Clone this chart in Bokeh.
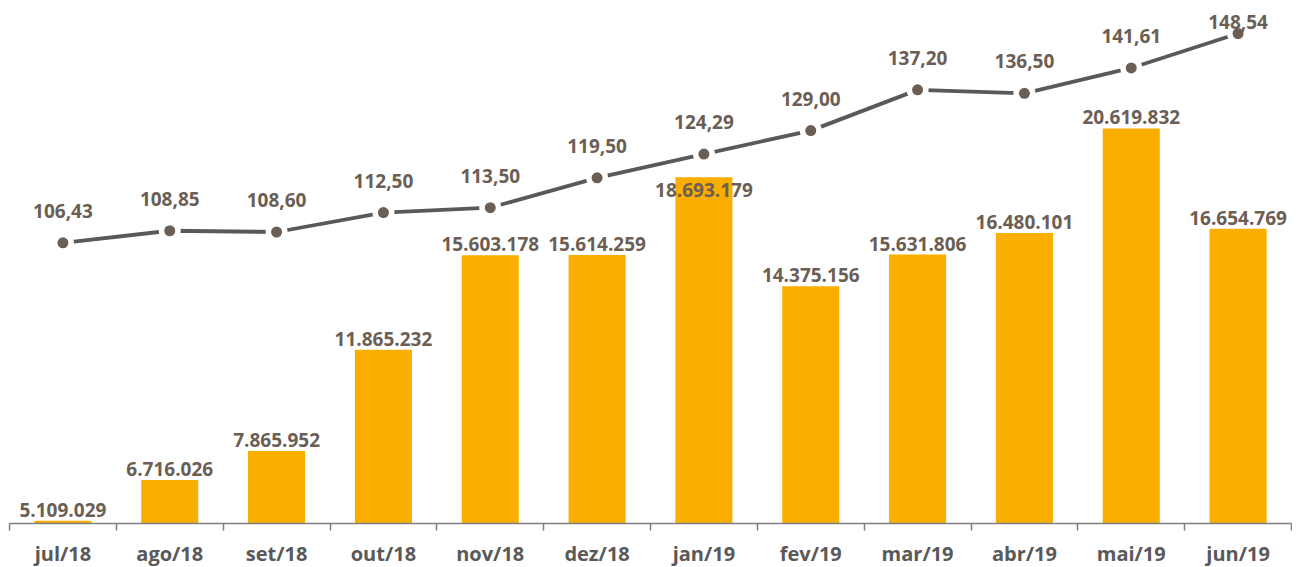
from bokeh.plotting import figure
from bokeh.models import Range1d, LinearAxis, FixedTicker, ColumnDataSource
from bokeh.core.properties import value
from bokeh.embed import file_html
from bokeh.resources import INLINE

months = ["jul/18", "ago/18", "set/18", "out/18", "nov/18", "dez/18",
          "jan/19", "fev/19", "mar/19", "abr/19", "mai/19", "jun/19"]
volume = [5109029, 6716026, 7865952, 11865232, 15603178, 15614259,
          18693179, 14375156, 15631806, 16480101, 20619832, 16654769]
price = [106.43, 108.85, 108.60, 112.50, 113.50, 119.50,
         124.29, 129.00, 137.20, 136.50, 141.61, 148.54]

def fmt_int(v):
    return f"{v:,}".replace(",", ".")

def fmt_dec(v):
    return f"{v:.2f}".replace(".", ",")

FRAME_H = 515
V_LO, V_HI = 5.0e6, 25.36e6
P_LO, P_HI = 49.95, 153.57
ppu = FRAME_H / (P_HI - P_LO)
vpu = FRAME_H / (V_HI - V_LO)

# screen distances from frame top (layout helpers, derived from the ranges)
marker_y = [(P_HI - v) * ppu for v in price]
bar_top_y = [(V_HI - v) * vpu for v in volume]

# keep the price labels inside the plot area near the top
price_off = [-min(32, m - 13) for m in marker_y]
# a volume label that would collide with the line goes inside the bar top
vol_off = [13 if (b - m) < 35 else -11 for b, m in zip(bar_top_y, marker_y)]

xs = [i + 0.5 for i in range(len(months))]
src = ColumnDataSource(dict(
    x=xs, vol=volume, price=price, poff=price_off, voff=vol_off,
    vol_lbl=[fmt_int(v) for v in volume],
    price_lbl=[fmt_dec(v) for v in price],
))

FONT = "Open Sans"
LBL = "#6b5e54"
BAR = "#F9AE00"

p = figure(frame_width=1282, frame_height=FRAME_H,
           x_range=Range1d(0, len(months)),
           y_range=Range1d(V_LO, V_HI),
           output_backend="svg", toolbar_location=None,
           min_border_left=9, min_border_right=1, min_border_top=8,
           min_border_bottom=0, outline_line_color=None)
p.extra_y_ranges = {"price": Range1d(P_LO, P_HI)}
p.grid.visible = False
p.yaxis.visible = False
p.xaxis.visible = False

xaxis = LinearAxis(
    ticker=FixedTicker(ticks=xs, minor_ticks=list(range(len(months) + 1))),
    major_label_overrides={x: m for x, m in zip(xs, months)},
    axis_line_color="#7f7f7f", axis_line_width=1.5,
    major_tick_line_color=None, major_tick_out=0, major_tick_in=0,
    minor_tick_line_color="#7f7f7f", minor_tick_line_width=1.5,
    minor_tick_out=7, minor_tick_in=0,
    major_label_text_font=FONT, major_label_text_font_style="bold",
    major_label_text_font_size="20px", major_label_text_color="#595959",
    major_label_standoff=9,
)
p.add_layout(xaxis, "below")

p.vbar(x="x", top="vol", bottom=V_LO, width=0.534, source=src,
       fill_color=BAR, line_color=None)
p.text(x="x", y="vol", text="vol_lbl", source=src, y_offset="voff",
       text_align="center", text_baseline="alphabetic",
       text_font=value(FONT), text_font_style="bold",
       text_font_size="19px", text_color=LBL)

p.line(x="x", y="price", source=src, y_range_name="price",
       line_color="#595959", line_width=3.8)
p.scatter(x="x", y="price", source=src, y_range_name="price",
          size=22, fill_color="white", line_color=None)
p.scatter(x="x", y="price", source=src, y_range_name="price",
          size=11, fill_color=LBL, line_color=None)
p.text(x="x", y="price", text="price_lbl", source=src, y_range_name="price",
       y_offset="poff", text_align="center", text_baseline="alphabetic",
       text_font=value(FONT), text_font_style="bold",
       text_font_size="19px", text_color=LBL)

open("out.html", "w").write(file_html(p, INLINE))
